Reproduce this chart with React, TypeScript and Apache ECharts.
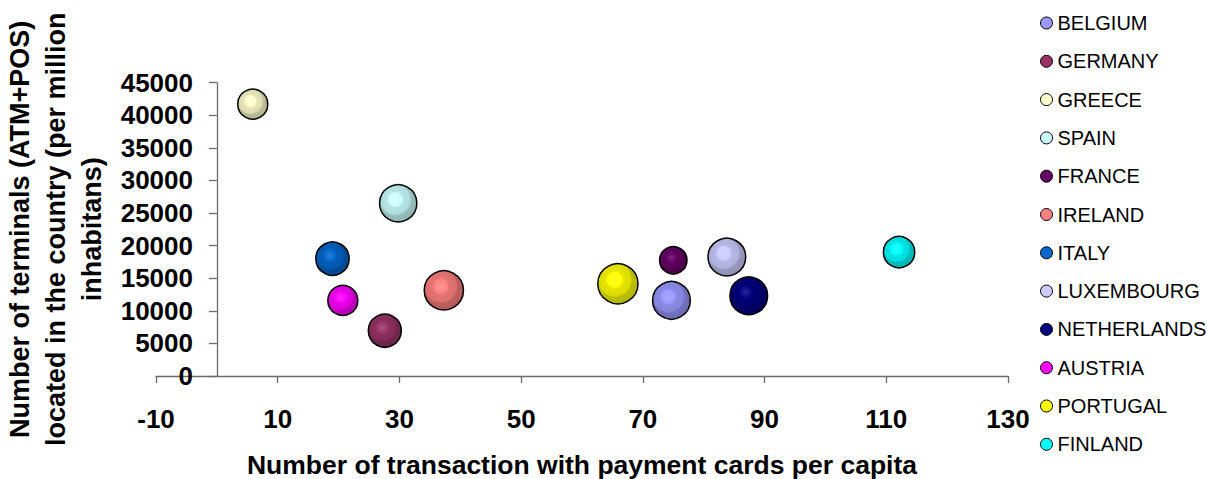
import React, { useEffect, useRef } from "react";
import * as echarts from "echarts";

// Countries, in legend order
const countries = [
  "BELGIUM",
  "GERMANY",
  "GREECE",
  "SPAIN",
  "FRANCE",
  "IRELAND",
  "ITALY",
  "LUXEMBOURG",
  "NETHERLANDS",
  "AUSTRIA",
  "PORTUGAL",
  "FINLAND",
];

// Number of transactions with payment cards per capita
const transactionsPerCapita = [74.7, 27.6, 5.9, 29.8, 75.0, 37.3, 19.0, 83.8, 87.4, 20.7, 65.9, 112.1];

// Terminals (ATM+POS) per million inhabitants
const terminalsPerMillion = [11600, 6950, 41700, 26500, 17750, 13150, 18000, 18250, 12300, 11600, 14150, 19000];

// Bubble size variable
const bubbleSize = [14.2, 10.9, 9.0, 13.9, 7.5, 15.4, 11.1, 14.2, 14.2, 9.0, 16.2, 9.8];

const colors = [
  "#9999FF",
  "#993366",
  "#FFFFCC",
  "#CCFFFF",
  "#660066",
  "#FF8080",
  "#0066CC",
  "#CCCCFF",
  "#000080",
  "#FF00FF",
  "#FFFF00",
  "#00FFFF",
];

const xTicks = { min: -10, max: 130, interval: 20 };
const yTicks = { min: 0, max: 45000, interval: 5000 };

function mix(hex: string, target: number, t: number): string {
  const n = parseInt(hex.slice(1), 16);
  const ch = [(n >> 16) & 255, (n >> 8) & 255, n & 255].map((c) =>
    Math.round(c + (target - c) * t)
  );
  return `rgb(${ch[0]},${ch[1]},${ch[2]})`;
}

// Shaded "ball" fill: bright spot upper-left, darker rim
function sphere(hex: string) {
  return {
    type: "radial",
    x: 0.42,
    y: 0.4,
    r: 0.62,
    colorStops: [
      { offset: 0, color: mix(hex, 255, 0.15) },
      { offset: 0.3, color: hex },
      { offset: 0.34, color: mix(hex, 0, 0.1) },
      { offset: 0.64, color: mix(hex, 0, 0.14) },
      { offset: 0.7, color: mix(hex, 0, 0.26) },
      { offset: 1, color: mix(hex, 0, 0.3) },
    ],
  };
}

const font = "'Liberation Sans', Arial, sans-serif";
const axisColor = "#6a6a6a";

export default function App() {
  const ref = useRef<HTMLDivElement>(null);

  useEffect(() => {
    if (!ref.current) return;
    const chart = echarts.init(ref.current, null, { renderer: "svg" });

    const series = countries.map((name, i) => ({
      name,
      type: "scatter",
      data: [[transactionsPerCapita[i], terminalsPerMillion[i], bubbleSize[i]]],
      symbol: "circle",
      symbolSize: (v: number[]) => 10 * Math.sqrt(v[2]),
      itemStyle: {
        color: sphere(colors[i]),
        borderColor: "#000",
        borderWidth: 1.5,
        opacity: 1,
      },
      emphasis: { disabled: true },
    }));

    chart.setOption({
      animation: false,
      backgroundColor: "#fff",
      textStyle: { fontFamily: font },
      grid: {
        left: 156,
        right: 199,
        top: 82.7,
        bottom: 103,
        containLabel: false,
        outerBoundsMode: "none",
      },
      legend: {
        orient: "vertical",
        left: 1035,
        top: 8,
        itemWidth: 12,
        itemHeight: 12,
        itemGap: 18.3,
        icon: "circle",
        textStyle: { fontSize: 20, lineHeight: 18, color: "#000", fontFamily: font },
        data: countries.map((name, i) => ({
          name,
          itemStyle: { color: colors[i], borderColor: "#000", borderWidth: 1 },
        })),
      },
      xAxis: {
        type: "value",
        ...xTicks,
        name: "Number of transaction with payment cards per capita",
        nameLocation: "middle",
        nameGap: 77,
        nameMoveOverlap: false,
        nameTextStyle: {
          fontSize: 26.5,
          lineHeight: 24,
          fontWeight: "bold",
          color: "#000",
          fontFamily: font,
        },
        axisLine: { onZero: false, lineStyle: { color: axisColor, width: 1.3 } },
        axisTick: { show: true, length: 7, lineStyle: { color: axisColor, width: 1.3 } },
        axisLabel: {
          fontSize: 26,
          fontWeight: "bold",
          color: "#000",
          margin: 30,
          fontFamily: font,
          showMinLabel: true,
          showMaxLabel: true,
        },
        splitLine: { show: false },
      },
      yAxis: {
        type: "value",
        ...yTicks,
        name: "Number of terminals (ATM+POS)\nlocated in the country (per million\ninhabitans)",
        nameLocation: "middle",
        nameRotate: 90,
        nameGap: 46,
        nameMoveOverlap: false,
        nameTextStyle: {
          fontSize: 27,
          fontWeight: "bold",
          color: "#000",
          lineHeight: 36,
          align: "center",
          fontFamily: font,
        },
        axisLine: {
          show: true,
          onZero: true,
          onZeroAxisIndex: 0,
          lineStyle: { color: axisColor, width: 1.3 },
        },
        axisTick: { show: true, length: 8, lineStyle: { color: axisColor, width: 1.3 } },
        axisLabel: {
          fontSize: 26,
          fontWeight: "bold",
          color: "#000",
          // labels sit beside the axis line drawn at x = 0
          margin: -37,
          fontFamily: font,
          formatter: (v: number) => String(v),
        },
        splitLine: { show: false },
      },
      series,
    });

    return () => chart.dispose();
  }, []);

  return (
    <div
      ref={ref}
      style={{ position: "fixed", left: 0, top: 0, width: 1207, height: 479 }}
    />
  );
}
